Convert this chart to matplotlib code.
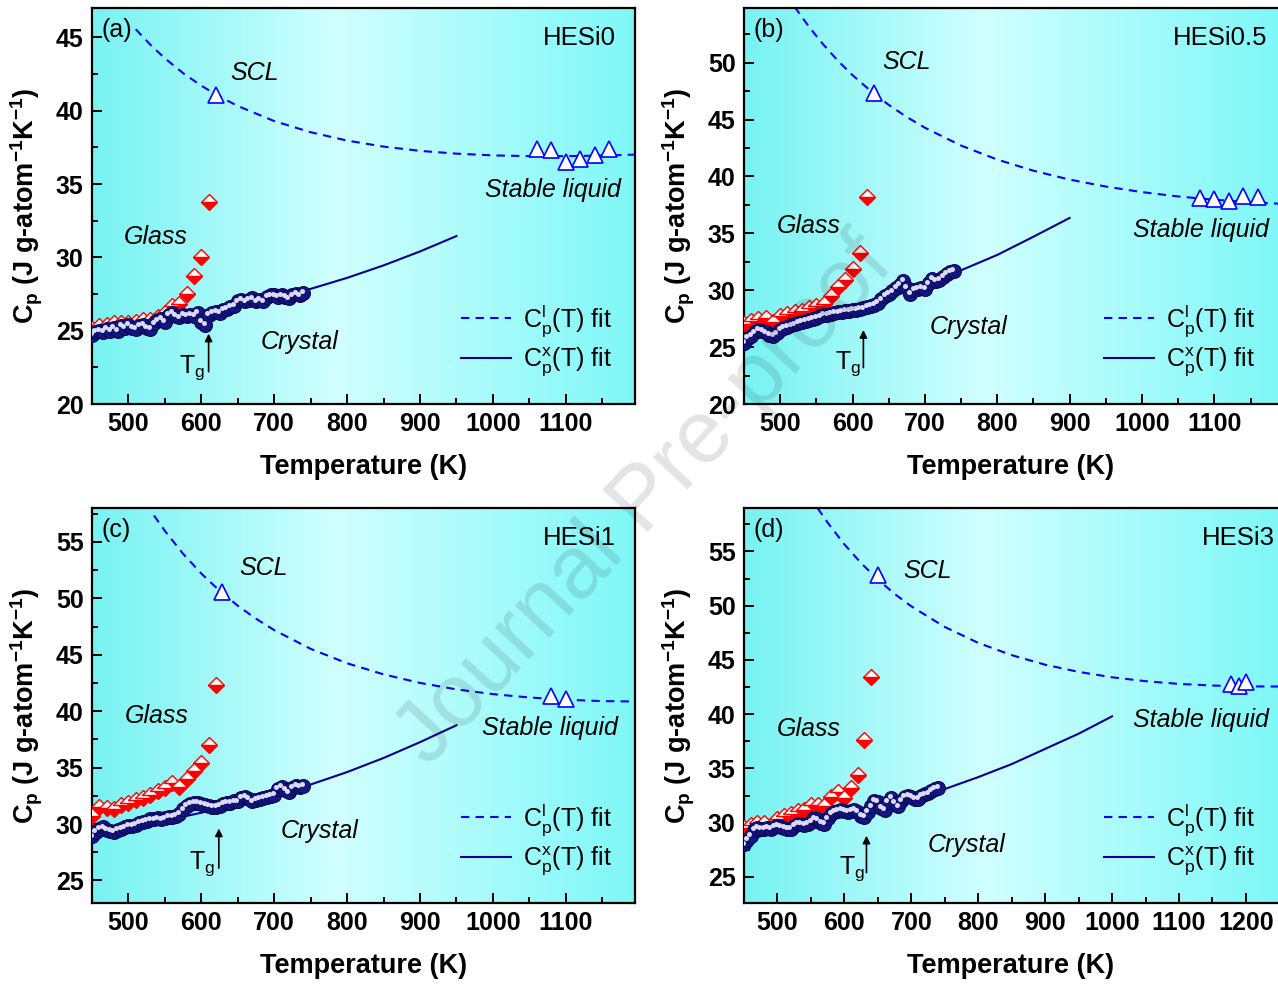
"""Cp vs temperature for the four HESi alloys (panels a-d)."""
import matplotlib
matplotlib.use("Agg")
import matplotlib.pyplot as plt
import matplotlib.transforms as mtransforms
import numpy as np
from matplotlib.lines import Line2D
from matplotlib.ticker import MultipleLocator

plt.rcParams["font.family"] = ["Liberation Sans", "DejaVu Sans"]
plt.rcParams["mathtext.fontset"] = "custom"
plt.rcParams["mathtext.rm"] = "Liberation Sans"
plt.rcParams["mathtext.it"] = "Liberation Sans:italic"
plt.rcParams["mathtext.bf"] = "Liberation Sans:bold"
plt.rcParams["mathtext.default"] = "rm"

# ---------------------------------------------------------------------------
# data
# ---------------------------------------------------------------------------
T_CRYS = np.arange(450, 745, 5)  # crystal measurement temperatures (K)

CRYS_A = [24.7, 24.9, 25.0, 24.9, 25.1, 25.0, 25.2, 25.0, 25.3, 25.2,
          25.4, 25.2, 25.1, 25.3, 25.4, 25.2, 25.1, 25.5, 25.7, 25.8,
          25.6, 26.1, 26.2, 26.0, 25.9, 26.1, 26.0, 26.1, 26.0, 26.2,
          25.6, 25.4, 26.1, 26.2, 26.3, 26.2, 26.4, 26.5, 26.6, 26.7,
          27.0, 27.1, 27.0, 27.1, 27.2, 27.0, 27.1, 27.0, 27.3, 27.4,
          27.4, 27.3, 27.4, 27.3, 27.2, 27.4, 27.5, 27.4, 27.6]
CRYS_B = [25.4, 25.8, 26.0, 26.3, 26.5, 26.4, 26.3, 26.1, 26.0, 26.2,
          26.5, 26.7, 26.8, 26.9, 27.0, 27.1, 27.2, 27.3, 27.4, 27.5,
          27.6, 27.7, 27.8, 27.85, 27.9, 28.0, 28.05, 28.1, 28.15, 28.2,
          28.25, 28.3, 28.35, 28.4, 28.5, 28.6, 28.7, 28.9, 29.2, 29.5,
          29.7, 29.9, 30.2, 30.5, 30.8, 30.2, 29.7, 30.0, 30.1, 30.2,
          30.1, 30.6, 31.0, 30.8, 30.9, 31.2, 31.4, 31.6, 31.7]
CRYS_C = [28.9, 29.3, 29.6, 29.7, 29.5, 29.4, 29.3, 29.5, 29.6, 29.7,
          29.8, 29.8, 29.9, 30.1, 30.2, 30.3, 30.4, 30.4, 30.5, 30.4,
          30.5, 30.6, 30.6, 30.7, 30.9, 31.3, 31.6, 31.8, 31.9, 31.9,
          31.8, 31.7, 31.6, 31.5, 31.5, 31.6, 31.8, 31.9, 31.9, 32.0,
          32.0, 32.3, 32.4, 32.2, 32.0, 32.1, 32.2, 32.3, 32.4, 32.5,
          32.6, 33.1, 33.3, 33.0, 32.8, 33.2, 33.4, 33.3, 33.4]
CRYS_D = [28.0, 28.4, 28.8, 29.3, 29.5, 29.4, 29.4, 29.5, 29.4, 29.6,
          29.7, 29.6, 29.5, 29.4, 29.4, 29.7, 29.9, 29.9, 29.8, 29.9,
          30.1, 30.4, 30.3, 30.0, 29.9, 30.4, 30.8, 31.0, 31.1, 31.2,
          31.1, 31.0, 31.1, 31.2, 31.0, 30.6, 30.5, 31.0, 31.5, 32.0,
          31.9, 31.4, 31.2, 31.9, 32.3, 31.8, 31.5, 32.0, 32.4, 32.5,
          32.4, 32.2, 32.2, 32.5, 32.6, 32.7, 32.9, 33.1, 33.2]

# glass (half-filled diamonds)
T_GLASS_A = np.arange(450, 620, 10)
GLASS_A = [25.1, 25.3, 25.4, 25.5, 25.5, 25.5, 25.6, 25.7, 25.7, 25.9,
           26.2, 26.7, 26.8, 27.5, 28.7, 30.0, 33.8]
T_GLASS_B = np.arange(450, 630, 10)
GLASS_B = [27.0, 27.3, 27.5, 27.6, 27.2, 27.7, 27.9, 28.1, 28.2, 28.4,
           28.6, 28.8, 29.5, 30.3, 30.9, 31.9, 33.3, 38.2]
T_GLASS_C = np.arange(450, 630, 10)
GLASS_C = [30.7, 31.5, 31.4, 31.3, 31.7, 31.9, 32.1, 32.3, 32.6, 32.9,
           33.2, 33.6, 33.3, 34.0, 34.7, 35.4, 37.0, 42.3]
T_GLASS_D = np.arange(450, 650, 10)
GLASS_D = [29.5, 29.8, 30.0, 30.0, 29.7, 30.3, 30.6, 30.8, 31.1, 31.2,
           31.6, 31.6, 31.5, 32.4, 32.8, 32.3, 33.2, 34.4, 37.6, 43.4]

# liquid (open triangles): supercooled point + stable liquid points
T_LIQ_A = [620, 1060, 1080, 1100, 1120, 1140, 1160]
LIQ_A = [41.1, 37.4, 37.3, 36.5, 36.7, 37.0, 37.4]
T_LIQ_B = [630, 1080, 1100, 1120, 1140, 1160]
LIQ_B = [47.3, 38.1, 38.0, 37.8, 38.3, 38.2]
T_LIQ_C = [628, 1080, 1100]
LIQ_C = [50.6, 41.3, 41.1]
T_LIQ_D = [650, 1178, 1189, 1200]
LIQ_D = [52.8, 42.8, 42.6, 43.0]

# liquid Cp fit (dashed)
T_LFIT_A = [510, 530, 550, 575, 600, 625, 650, 700, 750, 800, 850, 900,
            950, 1000, 1050, 1100, 1150, 1200]
LFIT_A = [45.55, 44.50, 43.57, 42.56, 41.70, 40.96, 40.32, 39.29, 38.53,
          37.96, 37.55, 37.26, 37.07, 36.95, 36.90, 36.90, 36.94, 37.01]
T_LFIT_B = [520, 540, 560, 580, 600, 625, 650, 675, 700, 750, 800, 850,
            900, 950, 1000, 1050, 1100, 1150, 1200]
LFIT_B = [54.90, 53.13, 51.56, 50.15, 48.90, 47.51, 46.29, 45.22, 44.28,
          42.71, 41.48, 40.50, 39.72, 39.11, 38.62, 38.24, 37.95, 37.73, 37.57]
T_LFIT_C = [535, 550, 575, 600, 625, 650, 675, 700, 750, 800, 850, 900,
            950, 1000, 1050, 1100, 1150, 1200]
LFIT_C = [57.34, 55.97, 53.94, 52.19, 50.67, 49.34, 48.19, 47.18, 45.52,
          44.24, 43.26, 42.50, 41.93, 41.51, 41.21, 41.01, 40.89, 40.85]
T_LFIT_D = [560, 575, 600, 625, 650, 675, 700, 750, 800, 850, 900, 950,
            1000, 1050, 1100, 1150, 1200, 1250]
LFIT_D = [58.99, 57.65, 55.65, 53.92, 52.41, 51.09, 49.94, 48.04, 46.57,
          45.44, 44.56, 43.90, 43.40, 43.04, 42.79, 42.64, 42.56, 42.55]

# crystal Cp fit (solid)
T_XFIT_A = [450, 500, 550, 600, 650, 700, 750, 800, 850, 900, 950]
XFIT_A = [24.7, 25.1, 25.55, 26.05, 26.6, 27.2, 27.85, 28.6, 29.45, 30.4, 31.45]
T_XFIT_B = [450, 500, 550, 600, 650, 700, 750, 800, 850, 900]
XFIT_B = [25.5, 26.3, 27.2, 28.2, 29.3, 30.5, 31.75, 33.1, 34.7, 36.35]
T_XFIT_C = [450, 500, 550, 600, 650, 700, 750, 800, 850, 900, 950]
XFIT_C = [29.0, 29.6, 30.3, 31.0, 31.8, 32.6, 33.5, 34.6, 35.85, 37.25, 38.75]
T_XFIT_D = [450, 500, 550, 600, 650, 700, 750, 800, 850, 900, 950, 1000]
XFIT_D = [28.3, 29.2, 29.9, 30.7, 31.4, 32.2, 33.1, 34.2, 35.4, 36.8, 38.2, 39.8]

PANEL_TAGS = ["(a)", "(b)", "(c)", "(d)"]
SAMPLES = ["HESi0", "HESi0.5", "HESi1", "HESi3"]

# ---------------------------------------------------------------------------
W, H = 1278, 984
fig = plt.figure(figsize=(W / 100, H / 100), dpi=100)


def px_box(x0, y0, x1, y1):
    return [x0 / W, 1 - y1 / H, (x1 - x0) / W, (y1 - y0) / H]


CYAN_L = np.array([0.47, 0.95, 0.95])
LIGHT = np.array([0.82, 1.0, 1.0])
CYAN_R = np.array([0.50, 0.97, 0.97])
_pos = np.linspace(0, 1, 256)
_grad = np.stack([np.interp(_pos, [0, 0.45, 1], [CYAN_L[i], LIGHT[i], CYAN_R[i]])
                  for i in range(3)], axis=-1)[None, :, :]


def panel(box, xlim, ylim, ymajor, crys, t_glass, glass, t_liq, liq,
          t_lfit, lfit, t_xfit, xfit, tag, sample, texts, tg,
          open_right=False, sample_x=0.965):
    ax = fig.add_axes(box)
    ax.imshow(_grad, extent=[0, 1, 0, 1], transform=ax.transAxes,
              aspect="auto", zorder=0, interpolation="bilinear")
    ax.set_xlim(*xlim)
    ax.set_ylim(*ylim)

    ax.plot(t_lfit, lfit, ls=(0, (4, 3)), color="#0000ff", lw=1.5, zorder=2)
    ax.plot(t_xfit, xfit, ls="-", color="#000090", lw=1.5, zorder=2)

    ax.plot(t_glass, glass, ls="none", marker="D", ms=8.5, fillstyle="bottom",
            color="#ff0000", markerfacecoloralt="white", mec="#ff0000",
            mew=1.0, zorder=3)
    ax.plot(t_liq, liq, ls="none", marker="^", ms=12, mfc="white",
            mec="#0000ff", mew=1.2, zorder=4)

    # navy "spheres": dark ball + small highlight
    ax.plot(T_CRYS, crys, ls="none", marker="o", ms=10, mfc="#161680",
            mec="#08085a", mew=0.8, zorder=5)
    hl = mtransforms.offset_copy(ax.transData, fig=fig, x=-1.0, y=1.3,
                                 units="points")
    ax.plot(T_CRYS, crys, ls="none", marker="o", ms=3.6, mfc="#dcdcf6",
            mec="none", transform=hl, zorder=6)

    for s in ax.spines.values():
        s.set_linewidth(1.6)
    if open_right:
        ax.spines["right"].set_visible(False)

    ax.xaxis.set_major_locator(MultipleLocator(100))
    ax.xaxis.set_minor_locator(MultipleLocator(50))
    ax.yaxis.set_major_locator(MultipleLocator(ymajor))
    ax.yaxis.set_minor_locator(MultipleLocator(ymajor / 2))
    ax.tick_params(which="both", direction="in", top=False, right=False,
                   width=1.4, labelsize=18, pad=6)
    ax.tick_params(which="major", length=7)
    ax.tick_params(which="minor", length=4)
    plt.setp(ax.get_xticklabels() + ax.get_yticklabels(), fontweight="bold")

    ax.set_xlabel("Temperature (K)", fontsize=19.5, fontweight="bold", labelpad=13)
    ax.set_ylabel(r"C$_\mathbf{p}$ (J g-atom$^\mathbf{-1}$K$^\mathbf{-1}$)",
                  fontsize=19.5, fontweight="bold", labelpad=8)

    ax.text(0.018, 0.975, tag, transform=ax.transAxes, ha="left", va="top",
            fontsize=18)
    ax.text(sample_x, 0.955, sample, transform=ax.transAxes, ha="right",
            va="top", fontsize=18.5)
    for (x, y, s) in texts:
        ax.text(x, y, s, ha="center", va="center", fontsize=18, style="italic")

    tx, y0, y1, lx = tg
    ax.annotate("", xy=(tx, y1), xytext=(tx, y0),
                arrowprops=dict(arrowstyle="-|>", color="k", lw=1.2,
                                mutation_scale=11, shrinkA=0, shrinkB=0))
    ax.text(lx, y0 + 0.1 * (y1 - y0), "T$_g$", ha="center", va="center",
            fontsize=18)

    handles = [Line2D([], [], ls=(0, (4, 3)), color="#0000ff", lw=1.5),
               Line2D([], [], ls="-", color="#000090", lw=1.5)]
    ax.legend(handles, ["C$_p^l$(T) fit", "C$_p^x$(T) fit"], loc="lower right",
              bbox_to_anchor=(0.985, 0.025), frameon=False, fontsize=18,
              handlelength=2.0, handletextpad=0.5, labelspacing=0.3,
              borderaxespad=0.2)
    return ax


panel(px_box(92, 8, 635, 404), (450, 1195), (20, 47), 5, CRYS_A,
      T_GLASS_A, GLASS_A, T_LIQ_A, LIQ_A, T_LFIT_A, LFIT_A, T_XFIT_A, XFIT_A,
      PANEL_TAGS[0], SAMPLES[0],
      [(673, 42.6, "SCL"), (1083, 34.6, "Stable liquid"),
       (537, 31.4, "Glass"), (735, 24.25, "Crystal")],
      (610, 22.2, 24.8, 587))
panel(px_box(744, 8, 1278, 404), (450, 1188), (20, 54.8), 5, CRYS_B,
      T_GLASS_B, GLASS_B, T_LIQ_B, LIQ_B, T_LFIT_B, LFIT_B, T_XFIT_B, XFIT_B,
      PANEL_TAGS[1], SAMPLES[1],
      [(675, 50.05, "SCL"), (1082, 35.3, "Stable liquid"),
       (539, 35.6, "Glass"), (760, 26.8, "Crystal")],
      (615, 23.2, 26.5, 594), open_right=True, sample_x=0.98)
panel(px_box(92, 508, 635, 903), (450, 1195), (23, 58), 5, CRYS_C,
      T_GLASS_C, GLASS_C, T_LIQ_C, LIQ_C, T_LFIT_C, LFIT_C, T_XFIT_C, XFIT_C,
      PANEL_TAGS[2], SAMPLES[2],
      [(686, 52.7, "SCL"), (1078, 38.5, "Stable liquid"),
       (539, 39.6, "Glass"), (762, 29.35, "Crystal")],
      (624, 26.1, 29.6, 601))
panel(px_box(744, 508, 1278, 903), (450, 1248), (22.6, 59), 5, CRYS_D,
      T_GLASS_D, GLASS_D, T_LIQ_D, LIQ_D, T_LFIT_D, LFIT_D, T_XFIT_D, XFIT_D,
      PANEL_TAGS[3], SAMPLES[3],
      [(724, 53.15, "SCL"), (1133, 39.5, "Stable liquid"),
       (547, 38.6, "Glass"), (783, 27.9, "Crystal")],
      (633, 25.4, 28.8, 612), open_right=True, sample_x=0.995)

fig.text(0.505, 0.49, "Journal Pre-proof", rotation=47, fontsize=64,
         color="k", alpha=0.11, ha="center", va="center", zorder=20)

fig.savefig("out.png", dpi=100)
